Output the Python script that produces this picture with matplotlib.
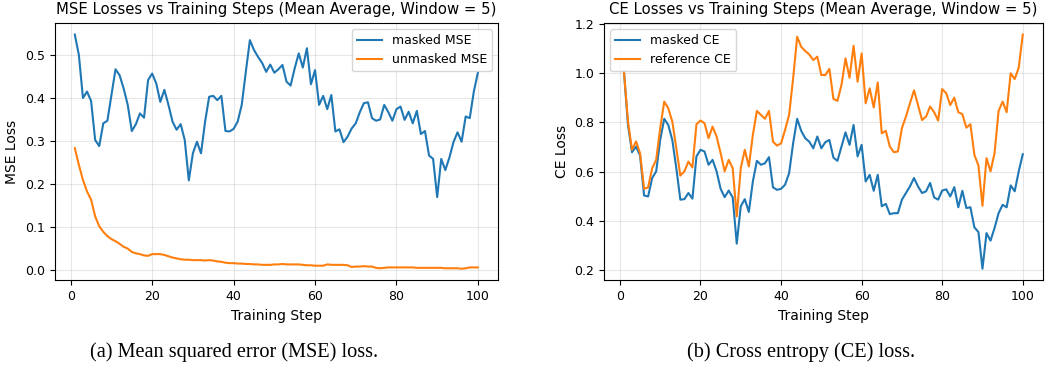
import numpy as np
import matplotlib
matplotlib.use('Agg')
import matplotlib.pyplot as plt

steps = np.arange(1, 101)

masked_mse = [0.548, 0.500, 0.400, 0.415, 0.393, 0.302, 0.288, 0.341, 0.347, 0.407,
              0.467, 0.453, 0.422, 0.384, 0.323, 0.339, 0.364, 0.354, 0.442, 0.457,
              0.434, 0.391, 0.419, 0.384, 0.345, 0.326, 0.339, 0.302, 0.208, 0.271,
              0.298, 0.271, 0.345, 0.403, 0.405, 0.395, 0.405, 0.323, 0.322, 0.328,
              0.345, 0.384, 0.461, 0.535, 0.512, 0.496, 0.482, 0.461, 0.478, 0.459,
              0.467, 0.477, 0.438, 0.429, 0.469, 0.504, 0.471, 0.516, 0.432, 0.465,
              0.384, 0.405, 0.374, 0.407, 0.322, 0.327, 0.297, 0.310, 0.329, 0.341,
              0.367, 0.388, 0.390, 0.353, 0.347, 0.350, 0.384, 0.367, 0.347, 0.374,
              0.380, 0.349, 0.368, 0.341, 0.370, 0.316, 0.323, 0.266, 0.258, 0.169,
              0.258, 0.232, 0.261, 0.297, 0.320, 0.298, 0.357, 0.353, 0.415, 0.459]

unmasked_mse = [0.283, 0.244, 0.209, 0.182, 0.163, 0.124, 0.101, 0.088, 0.078, 0.071,
                0.066, 0.060, 0.053, 0.049, 0.041, 0.038, 0.036, 0.033, 0.032, 0.036,
                0.036, 0.036, 0.034, 0.031, 0.028, 0.026, 0.024, 0.023, 0.023, 0.022,
                0.022, 0.022, 0.021, 0.022, 0.021, 0.019, 0.018, 0.016, 0.015, 0.015,
                0.014, 0.014, 0.013, 0.013, 0.012, 0.012, 0.011, 0.011, 0.011, 0.012,
                0.012, 0.013, 0.012, 0.012, 0.012, 0.012, 0.011, 0.010, 0.010, 0.009,
                0.009, 0.009, 0.012, 0.011, 0.011, 0.011, 0.011, 0.010, 0.006, 0.007,
                0.007, 0.008, 0.007, 0.007, 0.004, 0.003, 0.004, 0.005, 0.005, 0.005,
                0.005, 0.005, 0.005, 0.005, 0.004, 0.004, 0.004, 0.004, 0.004, 0.004,
                0.004, 0.003, 0.003, 0.003, 0.003, 0.002, 0.003, 0.005, 0.005, 0.005]

masked_ce = [1.007, 0.790, 0.679, 0.702, 0.666, 0.503, 0.499, 0.574, 0.601, 0.729,
             0.815, 0.790, 0.729, 0.614, 0.486, 0.488, 0.513, 0.490, 0.662, 0.689,
             0.682, 0.628, 0.648, 0.601, 0.530, 0.496, 0.523, 0.495, 0.307, 0.459,
             0.488, 0.436, 0.560, 0.644, 0.628, 0.634, 0.659, 0.536, 0.526, 0.530,
             0.547, 0.594, 0.716, 0.815, 0.766, 0.736, 0.722, 0.695, 0.743, 0.695,
             0.720, 0.729, 0.657, 0.644, 0.702, 0.760, 0.709, 0.790, 0.662, 0.709,
             0.560, 0.587, 0.522, 0.587, 0.459, 0.469, 0.427, 0.431, 0.431, 0.486,
             0.513, 0.540, 0.574, 0.540, 0.513, 0.520, 0.554, 0.495, 0.486, 0.523,
             0.528, 0.499, 0.537, 0.455, 0.522, 0.452, 0.455, 0.373, 0.354, 0.205,
             0.350, 0.319, 0.371, 0.431, 0.465, 0.455, 0.544, 0.520, 0.601, 0.671]

reference_ce = [1.007, 0.804, 0.689, 0.723, 0.675, 0.530, 0.536, 0.614, 0.648, 0.777,
                0.885, 0.858, 0.804, 0.695, 0.584, 0.601, 0.641, 0.617, 0.793, 0.808,
                0.797, 0.736, 0.783, 0.743, 0.675, 0.601, 0.648, 0.614, 0.418, 0.614,
                0.689, 0.621, 0.750, 0.847, 0.831, 0.815, 0.847, 0.722, 0.706, 0.715,
                0.770, 0.831, 0.980, 1.149, 1.108, 1.091, 1.077, 1.054, 1.068, 0.993,
                0.993, 1.018, 0.896, 0.888, 0.953, 1.061, 0.982, 1.112, 0.966, 1.081,
                0.878, 0.939, 0.861, 0.963, 0.756, 0.766, 0.702, 0.679, 0.682, 0.777,
                0.824, 0.878, 0.931, 0.871, 0.810, 0.824, 0.865, 0.842, 0.808, 0.936,
                0.919, 0.871, 0.901, 0.842, 0.834, 0.779, 0.793, 0.668, 0.625, 0.461,
                0.655, 0.601, 0.675, 0.847, 0.885, 0.842, 1.000, 0.977, 1.023, 1.158]

fig = plt.figure(figsize=(10.45, 3.68), dpi=100)
ax1 = fig.add_axes([0.0523, 0.238, 0.4243, 0.700])
ax2 = fig.add_axes([0.578, 0.238, 0.4198, 0.700])

ax1.plot(steps, masked_mse, label='masked MSE')
ax1.plot(steps, unmasked_mse, label='unmasked MSE')
ax1.set_title('MSE Losses vs Training Steps (Mean Average, Window = 5)', fontsize=10.7)
ax1.set_xlabel('Training Step', fontsize=10)
ax1.set_ylabel('MSE Loss', fontsize=10)
ax1.legend(loc='upper right', fontsize=9)

ax2.plot(steps, masked_ce, label='masked CE')
ax2.plot(steps, reference_ce, label='reference CE')
ax2.set_title('CE Losses vs Training Steps (Mean Average, Window = 5)', fontsize=10.7)
ax2.set_xlabel('Training Step', fontsize=10)
ax2.set_ylabel('CE Loss', fontsize=10)
ax2.legend(loc='upper left', fontsize=9)

for ax in (ax1, ax2):
    ax.grid(True, alpha=0.3)
    ax.set_xticks([0, 20, 40, 60, 80, 100])
    ax.tick_params(labelsize=9)

fig.text(0.224, 0.043, '(a) Mean squared error (MSE) loss.', ha='center', va='center',
         family='Liberation Serif', fontsize=14.6)
fig.text(0.767, 0.043, '(b) Cross entropy (CE) loss.', ha='center', va='center',
         family='Liberation Serif', fontsize=14.6)

fig.savefig('out.png', dpi=100)
